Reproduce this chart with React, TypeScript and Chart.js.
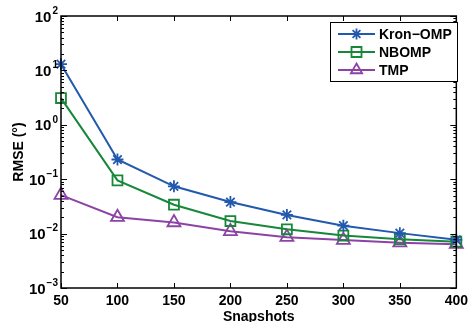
import React, { useEffect, useRef } from "react";
import { Chart, registerables } from "chart.js";

Chart.register(...registerables);

const snapshots = [50, 100, 150, 200, 250, 300, 350, 400];
const kronOmp = [13, 0.23, 0.074, 0.038, 0.022, 0.014, 0.0102, 0.0077];
const nbomp = [3.1, 0.095, 0.034, 0.017, 0.012, 0.0092, 0.0079, 0.0071];
const tmp = [0.051, 0.02, 0.016, 0.011, 0.0086, 0.0076, 0.0068, 0.0064];
const seriesNames = ["Kron\u2212OMP", "NBOMP", "TMP"];
const seriesColors = ["#2159ad", "#17873a", "#8c43a5"];
const yExponents = [-3, -2, -1, 0, 1, 2];

const FONT = "'Liberation Sans', Arial, sans-serif";

function drawMarker(ctx: CanvasRenderingContext2D, style: string, x: number, y: number) {
  ctx.beginPath();
  if (style === "star") {
    const r = 5.5;
    for (let i = 0; i < 4; i++) {
      const a = (i * Math.PI) / 4;
      ctx.moveTo(x - r * Math.cos(a), y - r * Math.sin(a));
      ctx.lineTo(x + r * Math.cos(a), y + r * Math.sin(a));
    }
  } else if (style === "rect") {
    const s = 5;
    ctx.rect(x - s, y - s, 2 * s, 2 * s);
  } else {
    const r = 6.5;
    ctx.moveTo(x, y - r);
    ctx.lineTo(x + r * Math.sin(Math.PI / 3), y + r * 0.5);
    ctx.lineTo(x - r * Math.sin(Math.PI / 3), y + r * 0.5);
    ctx.closePath();
  }
  ctx.stroke();
}

const markerStyles = ["star", "rect", "triangle"];

const decorPlugin = {
  id: "decor",
  afterDraw(chart: any) {
    const ctx: CanvasRenderingContext2D = chart.ctx;
    const { left, right, top, bottom } = chart.chartArea;
    const xs = chart.scales.x;
    const ys = chart.scales.y;
    ctx.save();
    ctx.strokeStyle = "#000";
    ctx.lineWidth = 1;
    ctx.beginPath();
    for (const v of snapshots) {
      const px = Math.round(xs.getPixelForValue(v)) + 0.5;
      ctx.moveTo(px, bottom);
      ctx.lineTo(px, bottom - 5);
      ctx.moveTo(px, top);
      ctx.lineTo(px, top + 5);
    }
    for (const d of yExponents) {
      const py = Math.round(ys.getPixelForValue(Math.pow(10, d))) + 0.5;
      ctx.moveTo(left, py);
      ctx.lineTo(left + 6, py);
      ctx.moveTo(right, py);
      ctx.lineTo(right - 6, py);
      if (d < 2) {
        for (let m = 2; m <= 9; m++) {
          const pm = Math.round(ys.getPixelForValue(m * Math.pow(10, d))) + 0.5;
          ctx.moveTo(left, pm);
          ctx.lineTo(left + 3, pm);
          ctx.moveTo(right, pm);
          ctx.lineTo(right - 3, pm);
        }
      }
    }
    ctx.stroke();
    ctx.lineWidth = 1.5;
    ctx.strokeRect(left, top, right - left, bottom - top);

    // y tick labels with superscripts
    ctx.fillStyle = "#000";
    ctx.textBaseline = "middle";
    ctx.textAlign = "right";
    for (const d of yExponents) {
      const py = ys.getPixelForValue(Math.pow(10, d));
      const exp = d < 0 ? "\u2212" + Math.abs(d) : String(d);
      ctx.font = `bold 10px ${FONT}`;
      const ew = ctx.measureText(exp).width;
      ctx.fillText(exp, left - 3, py - 5);
      ctx.font = `bold 15px ${FONT}`;
      ctx.fillText("10", left - 4 - ew, py + 1.5);
    }

    // axis titles
    ctx.font = `bold 14px ${FONT}`;
    ctx.textAlign = "center";
    ctx.fillText("Snapshots", (left + right) / 2, 317);
    ctx.save();
    ctx.translate(19, (top + bottom) / 2);
    ctx.rotate(-Math.PI / 2);
    ctx.fillText("RMSE (\u00B0)", 0, 0);
    ctx.restore();

    // legend
    const bx = 330.5, by = 22.5, bw = 127, bh = 59;
    ctx.fillStyle = "#fff";
    ctx.fillRect(bx, by, bw, bh);
    ctx.lineWidth = 1;
    ctx.strokeStyle = "#000";
    ctx.strokeRect(bx, by, bw, bh);
    const rows = [34, 52, 70];
    for (let i = 0; i < 3; i++) {
      const ry = rows[i];
      ctx.strokeStyle = seriesColors[i];
      ctx.lineWidth = 2;
      ctx.beginPath();
      ctx.moveTo(338, ry);
      ctx.lineTo(375, ry);
      ctx.stroke();
      ctx.lineWidth = 1.8;
      drawMarker(ctx, markerStyles[i], 356.5, ry);
      ctx.fillStyle = "#000";
      ctx.font = `bold 14px ${FONT}`;
      ctx.textAlign = "left";
      ctx.textBaseline = "middle";
      ctx.fillText(seriesNames[i], 379, ry + 1);
    }
    ctx.restore();
  },
};

export default function App() {
  const ref = useRef<HTMLCanvasElement>(null);
  useEffect(() => {
    const mk = (vals: number[]) => snapshots.map((x, i) => ({ x, y: vals[i] }));
    const all = [kronOmp, nbomp, tmp];
    const radii = [6, 7, 7.5];
    const chart = new Chart(ref.current!, {
      type: "line",
      data: {
        datasets: all.map((vals, i) => ({
          label: seriesNames[i],
          data: mk(vals),
          borderColor: seriesColors[i],
          backgroundColor: "rgba(0,0,0,0)",
          borderWidth: 2,
          pointStyle: markerStyles[i] as any,
          pointRadius: radii[i],
          pointBorderWidth: 1.8,
          pointBorderColor: seriesColors[i],
          pointBackgroundColor: "rgba(0,0,0,0)",
          tension: 0,
          clip: false as any,
        })),
      },
      options: {
        animation: false,
        responsive: false,
        maintainAspectRatio: false,
        layout: { padding: { top: 16, right: 14, left: 0, bottom: 0 } },
        plugins: { legend: { display: false }, tooltip: { enabled: false } },
        scales: {
          x: {
            type: "linear",
            min: 50,
            max: 400,
            grid: { display: false, drawTicks: false },
            border: { display: false },
            ticks: {
              stepSize: 50,
              padding: 5,
              color: "#000",
              maxRotation: 0,
              font: { family: FONT, size: 14, weight: "bold" },
            },
            afterFit: (s: any) => {
              s.height = 34;
            },
          },
          y: {
            type: "logarithmic",
            min: 1e-3,
            max: 1e2,
            grid: { display: false, drawTicks: false },
            border: { display: false },
            ticks: { display: false },
            afterFit: (s: any) => {
              s.width = 61;
            },
          },
        },
      },
      plugins: [decorPlugin],
    });
    return () => chart.destroy();
  }, []);
  return (
    <div style={{ position: "fixed", left: 0, top: 0, width: 473, height: 322, background: "#fff" }}>
      <canvas ref={ref} width={473} height={322} style={{ display: "block", width: 473, height: 322 }} />
    </div>
  );
}
